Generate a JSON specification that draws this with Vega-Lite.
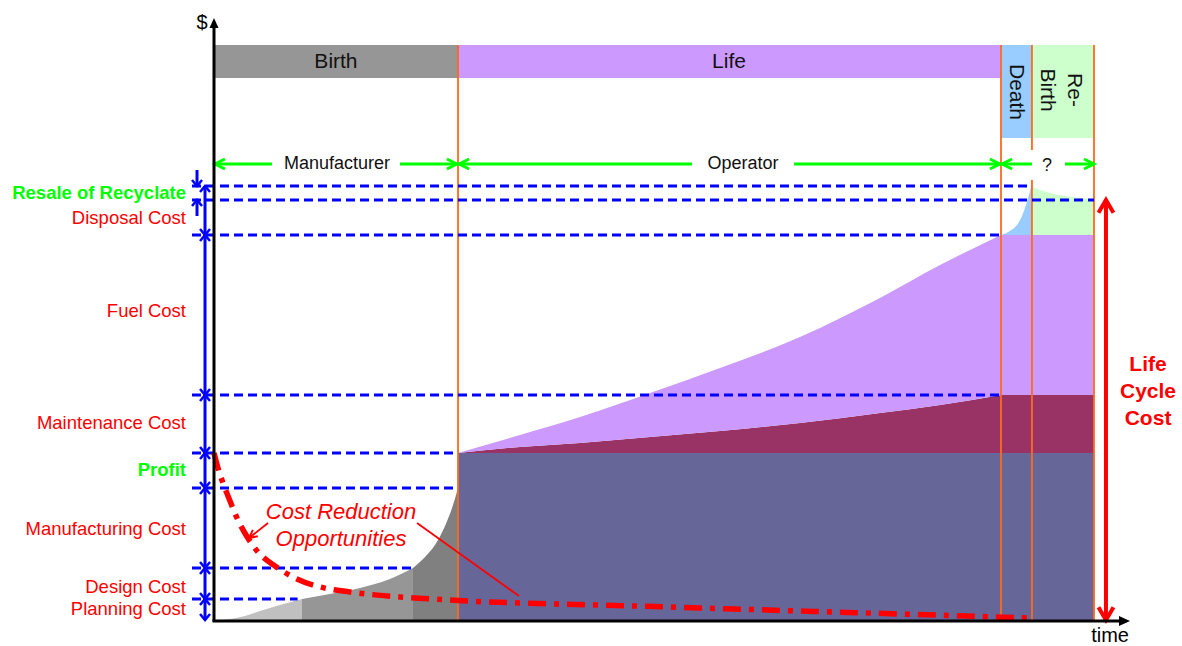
{
  "$schema": "https://vega.github.io/schema/vega-lite/v6.json",
  "width": 1182,
  "height": 646,
  "autosize": {"type": "none"},
  "padding": 0,
  "background": "white",
  "config": {"view": {"stroke": null}, "font": "Liberation Sans", "text": {"font": "Liberation Sans"}},
  "datasets": {
    "curvedCosts": [
      {"name": "Planning", "t": 0, "lo": 0, "hi": 0},
      {"name": "Planning", "t": 1.82, "lo": 0, "hi": 0.24},
      {"name": "Planning", "t": 3.52, "lo": 0, "hi": 0.95},
      {"name": "Planning", "t": 5.23, "lo": 0, "hi": 2.14},
      {"name": "Planning", "t": 7.5, "lo": 0, "hi": 3.57},
      {"name": "Planning", "t": 10, "lo": 0, "hi": 5},
      {"name": "Design", "t": 10, "lo": 0, "hi": 5},
      {"name": "Design", "t": 13.18, "lo": 0, "hi": 6.19},
      {"name": "Design", "t": 16.59, "lo": 0, "hi": 7.62},
      {"name": "Design", "t": 20, "lo": 0, "hi": 9.76},
      {"name": "Design", "t": 22.61, "lo": 0, "hi": 12.38},
      {"name": "Manufacturing", "t": 22.61, "lo": 0, "hi": 12.38},
      {"name": "Manufacturing", "t": 23.98, "lo": 0, "hi": 15.0},
      {"name": "Manufacturing", "t": 25.11, "lo": 0, "hi": 17.86},
      {"name": "Manufacturing", "t": 26.25, "lo": 0, "hi": 22.38},
      {"name": "Manufacturing", "t": 27.05, "lo": 0, "hi": 26.67},
      {"name": "Manufacturing", "t": 27.73, "lo": 0, "hi": 31.43},
      {"name": "Disposal", "t": 89.43, "lo": 91.67, "hi": 91.67},
      {"name": "Disposal", "t": 90.45, "lo": 91.67, "hi": 92.62},
      {"name": "Disposal", "t": 91.25, "lo": 91.67, "hi": 94.05},
      {"name": "Disposal", "t": 91.82, "lo": 91.67, "hi": 96.19},
      {"name": "Disposal", "t": 92.27, "lo": 91.67, "hi": 98.81},
      {"name": "Disposal", "t": 92.61, "lo": 91.67, "hi": 101.19},
      {"name": "Disposal", "t": 92.95, "lo": 91.67, "hi": 103.81},
      {"name": "Resale", "t": 92.95, "lo": 91.67, "hi": 103.1},
      {"name": "Resale", "t": 93.86, "lo": 91.67, "hi": 102.38},
      {"name": "Resale", "t": 95.0, "lo": 91.67, "hi": 101.67},
      {"name": "Resale", "t": 96.7, "lo": 91.67, "hi": 100.95},
      {"name": "Resale", "t": 98.41, "lo": 91.67, "hi": 100.48},
      {"name": "Resale", "t": 100, "lo": 91.67, "hi": 100.24}
    ],
    "lifeCosts": [
      {"name": "Purchase Price", "span": "life", "t": 27.73, "lo": 0, "hi": 39.76},
      {"name": "Purchase Price", "span": "life", "t": 100, "lo": 0, "hi": 39.76},
      {"name": "Maintenance", "span": "life", "t": 27.73, "lo": 39.76, "hi": 39.76},
      {"name": "Maintenance", "span": "life", "t": 34.77, "lo": 39.76, "hi": 41.19},
      {"name": "Maintenance", "span": "life", "t": 41.59, "lo": 39.76, "hi": 42.14},
      {"name": "Maintenance", "span": "life", "t": 49.55, "lo": 39.76, "hi": 43.57},
      {"name": "Maintenance", "span": "life", "t": 57.5, "lo": 39.76, "hi": 45.0},
      {"name": "Maintenance", "span": "life", "t": 66.59, "lo": 39.76, "hi": 46.9},
      {"name": "Maintenance", "span": "life", "t": 75.68, "lo": 39.76, "hi": 49.29},
      {"name": "Maintenance", "span": "life", "t": 82.5, "lo": 39.76, "hi": 51.19},
      {"name": "Maintenance", "span": "life", "t": 89.43, "lo": 39.76, "hi": 53.57},
      {"name": "Maintenance", "span": "end", "t": 89.43, "lo": 39.76, "hi": 53.57},
      {"name": "Maintenance", "span": "end", "t": 100, "lo": 39.76, "hi": 53.57},
      {"name": "Fuel", "span": "life", "t": 27.73, "lo": 39.76, "hi": 39.76},
      {"name": "Fuel", "span": "life", "t": 34.77, "lo": 41.19, "hi": 44.05},
      {"name": "Fuel", "span": "life", "t": 41.59, "lo": 42.14, "hi": 48.33},
      {"name": "Fuel", "span": "life", "t": 49.55, "lo": 43.57, "hi": 54.05},
      {"name": "Fuel", "span": "life", "t": 57.5, "lo": 45.0, "hi": 60.0},
      {"name": "Fuel", "span": "life", "t": 66.59, "lo": 46.9, "hi": 67.38},
      {"name": "Fuel", "span": "life", "t": 75.68, "lo": 49.29, "hi": 76.67},
      {"name": "Fuel", "span": "life", "t": 82.5, "lo": 51.19, "hi": 84.52},
      {"name": "Fuel", "span": "life", "t": 89.43, "lo": 53.57, "hi": 91.67},
      {"name": "Fuel", "span": "end", "t": 89.43, "lo": 53.57, "hi": 91.67},
      {"name": "Fuel", "span": "end", "t": 100, "lo": 53.57, "hi": 91.67}
    ],
    "phases": [
      {"name": "Birth", "t0": 0, "t1": 27.73, "top": 136.9, "bottom": 129.05},
      {"name": "Life", "t0": 27.73, "t1": 89.43, "top": 136.9, "bottom": 129.05},
      {"name": "Death", "t0": 89.43, "t1": 92.95, "top": 136.9, "bottom": 114.76},
      {"name": "Re-Birth", "t0": 92.95, "t1": 100, "top": 136.9, "bottom": 114.76}
    ],
    "dividers": [
      {"t": 27.73, "c0": 0, "c1": 136.9},
      {"t": 89.43, "c0": 0, "c1": 136.9},
      {"t": 92.95, "c0": 111.9, "c1": 136.9},
      {"t": 92.95, "c0": 0, "c1": 104.76},
      {"t": 100, "c0": 0, "c1": 136.9}
    ],
    "levels": [
      {"level": "Resale of Recyclate", "c": 103.33, "t0": -2.5, "t1": 92.5},
      {"level": "Disposal Cost", "c": 100, "t0": -2.5, "t1": 100},
      {"level": "Fuel Cost", "c": 91.67, "t0": -2.5, "t1": 89.43},
      {"level": "Maintenance Cost", "c": 53.57, "t0": -2.5, "t1": 89.43},
      {"level": "Profit", "c": 39.76, "t0": -2.5, "t1": 27.73},
      {"level": "Manufacturing Cost", "c": 31.43, "t0": -2.5, "t1": 27.73},
      {"level": "Design Cost", "c": 12.38, "t0": -2.5, "t1": 22.61},
      {"level": "Planning Cost", "c": 5, "t0": -2.5, "t1": 9.5}
    ],
    "reduction": [
      {"t": 0, "c": 39.76},
      {"t": 0.45, "c": 36.19},
      {"t": 1.02, "c": 32.62},
      {"t": 1.82, "c": 28.33},
      {"t": 2.61, "c": 24.29},
      {"t": 3.64, "c": 20.24},
      {"t": 5.0, "c": 16.19},
      {"t": 6.93, "c": 12.86},
      {"t": 9.2, "c": 10.0},
      {"t": 12.05, "c": 7.86},
      {"t": 15.45, "c": 6.67},
      {"t": 21.14, "c": 5.48},
      {"t": 24.89, "c": 5.0},
      {"t": 28.75, "c": 4.52},
      {"t": 34.77, "c": 4.05},
      {"t": 43.86, "c": 3.57},
      {"t": 55.23, "c": 2.86},
      {"t": 66.59, "c": 2.14},
      {"t": 77.95, "c": 1.43},
      {"t": 92.73, "c": 0.48}
    ],
    "pointers": [
      {"t0": 6.14, "c0": 23.1, "t1": 3.98, "c1": 19.52},
      {"t0": 23.07, "c0": 23.1, "t1": 34.66, "c1": 5.71}
    ],
    "pointerHead": [{"t": 3.98, "c": 19.52}],
    "blueRules": [
      {"t": -1.02, "c0": 0, "c1": 103.33},
      {"t": -1.93, "c0": 103.33, "c1": 107.14},
      {"t": -1.93, "c0": 96.19, "c1": 100}
    ],
    "blueUp": [
      {"t": -1.02, "c": 103.33},
      {"t": -1.02, "c": 91.67},
      {"t": -1.02, "c": 53.57},
      {"t": -1.02, "c": 39.76},
      {"t": -1.02, "c": 31.43},
      {"t": -1.02, "c": 12.38},
      {"t": -1.02, "c": 5},
      {"t": -1.93, "c": 100}
    ],
    "blueDown": [
      {"t": -1.02, "c": 91.67},
      {"t": -1.02, "c": 53.57},
      {"t": -1.02, "c": 39.76},
      {"t": -1.02, "c": 31.43},
      {"t": -1.02, "c": 12.38},
      {"t": -1.02, "c": 5},
      {"t": -1.02, "c": 0},
      {"t": -1.93, "c": 103.33}
    ],
    "actorSpans": [
      {"t0": 0, "t1": 6.59, "c": 108.57},
      {"t0": 21.14, "t1": 27.73, "c": 108.57},
      {"t0": 27.73, "t1": 54.32, "c": 108.57},
      {"t0": 65.91, "t1": 89.43, "c": 108.57},
      {"t0": 89.43, "t1": 92.95, "c": 108.57},
      {"t0": 96.7, "t1": 100, "c": 108.57}
    ],
    "actorStarts": [
      {"t": 0.1, "c": 108.57},
      {"t": 27.85, "c": 108.57},
      {"t": 89.55, "c": 108.57}
    ],
    "actorEnds": [
      {"t": 27.6, "c": 108.57},
      {"t": 89.3, "c": 108.57},
      {"t": 100, "c": 108.57}
    ],
    "lifeCycle": [{"t": 101.36, "c0": 0, "c1": 100}],
    "lifeCycleTop": [{"t": 101.36, "c": 100}],
    "lifeCycleBottom": [{"t": 101.36, "c": 0}],
    "axes": [
      {"t0": 0, "t1": 0, "c0": -0.4, "c1": 141.67},
      {"t0": -0.17, "t1": 103.3, "c0": -0.24, "c1": -0.24}
    ],
    "axisUp": [{"t": 0, "c": 143.33}],
    "axisRight": [{"t": 104.09, "c": -0.24}],
    "phaseLabels": [
      {"label": "Birth", "t": 13.86, "c": 132.86},
      {"label": "Life", "t": 58.52, "c": 132.86}
    ],
    "endLabels": [
      {"label": "Death", "t": 91.14, "c": 125.71},
      {"label": "Re-\nBirth", "t": 97.73, "c": 126.19}
    ],
    "actorLabels": [
      {"label": "Manufacturer", "t": 13.98, "c": 108.57},
      {"label": "Operator", "t": 60.11, "c": 108.57},
      {"label": "?", "t": 94.66, "c": 108.1}
    ],
    "costLabels": [
      {"label": "Disposal Cost", "t": -3.18, "c": 95.71},
      {"label": "Fuel Cost", "t": -3.18, "c": 73.57},
      {"label": "Maintenance Cost", "t": -3.18, "c": 46.9},
      {"label": "Manufacturing Cost", "t": -3.18, "c": 21.67},
      {"label": "Design Cost", "t": -3.18, "c": 7.86},
      {"label": "Planning Cost", "t": -3.18, "c": 2.62}
    ],
    "gainLabels": [
      {"label": "Resale of Recyclate", "t": -3.18, "c": 101.67},
      {"label": "Profit", "t": -3.18, "c": 35.71}
    ],
    "reductionLabel": [{"label": "Cost Reduction\nOpportunities", "t": 14.43, "c": 25.71}],
    "lifeCycleLabel": [{"label": "Life\nCycle\nCost", "t": 106.14, "c": 60.71}],
    "axisLabels": [
      {"label": "$", "t": -1.36, "c": 142.14, "size": "large"},
      {"label": "time", "t": 101.82, "c": -3.75, "size": "large"}
    ]
  },
  "layer": [
    {
      "data": {"name": "curvedCosts"},
      "mark": {"type": "area", "interpolate": "monotone", "opacity": 1},
      "encoding": {
        "x": {"field": "t", "type": "quantitative", "scale": {"domain": [-24.318, 110], "nice": false, "zero": false}, "axis": null},
        "y": {"field": "hi", "type": "quantitative", "scale": {"domain": [-6.19, 147.62], "nice": false, "zero": false}, "axis": null},
        "y2": {"field": "lo"},
        "color": {
          "field": "name", "type": "nominal", "legend": null,
          "scale": {
            "domain": ["Planning", "Design", "Manufacturing", "Purchase Price", "Maintenance", "Fuel", "Disposal", "Resale", "Birth", "Life", "Death", "Re-Birth"],
            "range": ["#c0c0c0", "#969696", "#808080", "#666699", "#993366", "#cc99ff", "#99ccff", "#ccffcc", "#969696", "#cc99ff", "#99ccff", "#ccffcc"]
          }
        }
      }
    },
    {
      "data": {"name": "lifeCosts"},
      "mark": {"type": "area", "interpolate": "monotone", "opacity": 1},
      "encoding": {
        "x": {"field": "t", "type": "quantitative", "scale": {"domain": [-24.318, 110], "nice": false, "zero": false}, "axis": null},
        "y": {"field": "hi", "type": "quantitative", "scale": {"domain": [-6.19, 147.62], "nice": false, "zero": false}, "axis": null},
        "y2": {"field": "lo"},
        "color": {"field": "name", "type": "nominal", "legend": null},
        "detail": {"field": "span", "type": "nominal"}
      }
    },
    {
      "data": {"name": "phases"},
      "mark": {"type": "rect", "opacity": 1},
      "encoding": {
        "x": {"field": "t0", "type": "quantitative", "axis": null},
        "x2": {"field": "t1"},
        "y": {"field": "top", "type": "quantitative", "axis": null},
        "y2": {"field": "bottom"},
        "color": {"field": "name", "type": "nominal", "legend": null}
      }
    },
    {
      "data": {"name": "dividers"},
      "mark": {"type": "rule", "color": "#ff6a1a", "strokeWidth": 1.8},
      "encoding": {
        "x": {"field": "t", "type": "quantitative", "axis": null},
        "y": {"field": "c0", "type": "quantitative", "axis": null},
        "y2": {"field": "c1"}
      }
    },
    {
      "data": {"name": "levels"},
      "mark": {"type": "rule", "color": "#0000ff", "strokeWidth": 3, "strokeDash": [9, 5]},
      "encoding": {
        "x": {"field": "t0", "type": "quantitative", "axis": null},
        "x2": {"field": "t1"},
        "y": {"field": "c", "type": "quantitative", "axis": null}
      }
    },
    {
      "data": {"name": "reduction"},
      "mark": {"type": "line", "color": "#ff0000", "strokeWidth": 5.5, "strokeDash": [18, 8, 5, 8], "interpolate": "monotone"},
      "encoding": {
        "x": {"field": "t", "type": "quantitative", "axis": null},
        "y": {"field": "c", "type": "quantitative", "axis": null}
      }
    },
    {
      "data": {"name": "pointers"},
      "mark": {"type": "rule", "color": "#ff0000", "strokeWidth": 1.8},
      "encoding": {
        "x": {"field": "t0", "type": "quantitative", "axis": null},
        "x2": {"field": "t1"},
        "y": {"field": "c0", "type": "quantitative", "axis": null},
        "y2": {"field": "c1"}
      }
    },
    {
      "data": {"name": "pointerHead"},
      "mark": {"type": "point", "shape": "M-2,-1L0,0L-2,1", "filled": false, "color": "#ff0000", "strokeWidth": 2, "size": 64, "angle": 142, "opacity": 1},
      "encoding": {
        "x": {"field": "t", "type": "quantitative", "axis": null},
        "y": {"field": "c", "type": "quantitative", "axis": null}
      }
    },
    {
      "data": {"name": "blueRules"},
      "mark": {"type": "rule", "color": "#0000ff", "strokeWidth": 3},
      "encoding": {
        "x": {"field": "t", "type": "quantitative", "axis": null},
        "y": {"field": "c0", "type": "quantitative", "axis": null},
        "y2": {"field": "c1"}
      }
    },
    {
      "data": {"name": "blueUp"},
      "mark": {"type": "point", "shape": "M-1,1.2L0,0L1,1.2", "filled": false, "color": "#0000ff", "strokeWidth": 2.5, "size": 100, "opacity": 1},
      "encoding": {
        "x": {"field": "t", "type": "quantitative", "axis": null},
        "y": {"field": "c", "type": "quantitative", "axis": null}
      }
    },
    {
      "data": {"name": "blueDown"},
      "mark": {"type": "point", "shape": "M-1,-1.2L0,0L1,-1.2", "filled": false, "color": "#0000ff", "strokeWidth": 2.5, "size": 100, "opacity": 1},
      "encoding": {
        "x": {"field": "t", "type": "quantitative", "axis": null},
        "y": {"field": "c", "type": "quantitative", "axis": null}
      }
    },
    {
      "data": {"name": "actorSpans"},
      "mark": {"type": "rule", "color": "#00ff00", "strokeWidth": 3},
      "encoding": {
        "x": {"field": "t0", "type": "quantitative", "axis": null},
        "x2": {"field": "t1"},
        "y": {"field": "c", "type": "quantitative", "axis": null}
      }
    },
    {
      "data": {"name": "actorStarts"},
      "mark": {"type": "point", "shape": "M2,-1L0,0L2,1", "filled": false, "color": "#00ff00", "strokeWidth": 3, "size": 100, "opacity": 1},
      "encoding": {
        "x": {"field": "t", "type": "quantitative", "axis": null},
        "y": {"field": "c", "type": "quantitative", "axis": null}
      }
    },
    {
      "data": {"name": "actorEnds"},
      "mark": {"type": "point", "shape": "M-2,-1L0,0L-2,1", "filled": false, "color": "#00ff00", "strokeWidth": 3, "size": 100, "opacity": 1},
      "encoding": {
        "x": {"field": "t", "type": "quantitative", "axis": null},
        "y": {"field": "c", "type": "quantitative", "axis": null}
      }
    },
    {
      "data": {"name": "lifeCycle"},
      "mark": {"type": "rule", "color": "#ff0000", "strokeWidth": 4},
      "encoding": {
        "x": {"field": "t", "type": "quantitative", "axis": null},
        "y": {"field": "c0", "type": "quantitative", "axis": null},
        "y2": {"field": "c1"}
      }
    },
    {
      "data": {"name": "lifeCycleTop"},
      "mark": {"type": "point", "shape": "M-1,1.7L0,0L1,1.7", "filled": false, "color": "#ff0000", "strokeWidth": 4, "size": 225, "opacity": 1},
      "encoding": {
        "x": {"field": "t", "type": "quantitative", "axis": null},
        "y": {"field": "c", "type": "quantitative", "axis": null}
      }
    },
    {
      "data": {"name": "lifeCycleBottom"},
      "mark": {"type": "point", "shape": "M-1,-1.7L0,0L1,-1.7", "filled": false, "color": "#ff0000", "strokeWidth": 4, "size": 225, "opacity": 1},
      "encoding": {
        "x": {"field": "t", "type": "quantitative", "axis": null},
        "y": {"field": "c", "type": "quantitative", "axis": null}
      }
    },
    {
      "data": {"name": "axes"},
      "mark": {"type": "rule", "color": "#000000", "strokeWidth": 3},
      "encoding": {
        "x": {"field": "t0", "type": "quantitative", "axis": null},
        "x2": {"field": "t1"},
        "y": {"field": "c0", "type": "quantitative", "axis": null},
        "y2": {"field": "c1"}
      }
    },
    {
      "data": {"name": "axisUp"},
      "mark": {"type": "point", "shape": "M0,0L-1,2.2L1,2.2Z", "filled": true, "color": "#000000", "size": 81, "opacity": 1},
      "encoding": {
        "x": {"field": "t", "type": "quantitative", "axis": null},
        "y": {"field": "c", "type": "quantitative", "axis": null}
      }
    },
    {
      "data": {"name": "axisRight"},
      "mark": {"type": "point", "shape": "M0,0L-2.2,-1L-2.2,1Z", "filled": true, "color": "#000000", "size": 100, "opacity": 1},
      "encoding": {
        "x": {"field": "t", "type": "quantitative", "axis": null},
        "y": {"field": "c", "type": "quantitative", "axis": null}
      }
    },
    {
      "data": {"name": "phaseLabels"},
      "mark": {"type": "text", "fontSize": 21, "color": "#111111", "align": "center", "baseline": "middle"},
      "encoding": {
        "x": {"field": "t", "type": "quantitative", "axis": null},
        "y": {"field": "c", "type": "quantitative", "axis": null},
        "text": {"field": "label"}
      }
    },
    {
      "data": {"name": "endLabels"},
      "mark": {"type": "text", "fontSize": 21, "color": "#111111", "align": "center", "baseline": "middle", "angle": 90, "lineBreak": "\n", "lineHeight": 27},
      "encoding": {
        "x": {"field": "t", "type": "quantitative", "axis": null},
        "y": {"field": "c", "type": "quantitative", "axis": null},
        "text": {"field": "label"}
      }
    },
    {
      "data": {"name": "actorLabels"},
      "mark": {"type": "text", "fontSize": 18, "color": "#111111", "align": "center", "baseline": "middle"},
      "encoding": {
        "x": {"field": "t", "type": "quantitative", "axis": null},
        "y": {"field": "c", "type": "quantitative", "axis": null},
        "text": {"field": "label"}
      }
    },
    {
      "data": {"name": "costLabels"},
      "mark": {"type": "text", "fontSize": 18.5, "color": "#ff0000", "align": "right", "baseline": "middle"},
      "encoding": {
        "x": {"field": "t", "type": "quantitative", "axis": null},
        "y": {"field": "c", "type": "quantitative", "axis": null},
        "text": {"field": "label"}
      }
    },
    {
      "data": {"name": "gainLabels"},
      "mark": {"type": "text", "fontSize": 18.5, "fontWeight": "bold", "color": "#00ff00", "align": "right", "baseline": "middle"},
      "encoding": {
        "x": {"field": "t", "type": "quantitative", "axis": null},
        "y": {"field": "c", "type": "quantitative", "axis": null},
        "text": {"field": "label"}
      }
    },
    {
      "data": {"name": "reductionLabel"},
      "mark": {"type": "text", "fontSize": 22, "fontStyle": "italic", "color": "#ff0000", "align": "center", "baseline": "middle", "lineBreak": "\n", "lineHeight": 27},
      "encoding": {
        "x": {"field": "t", "type": "quantitative", "axis": null},
        "y": {"field": "c", "type": "quantitative", "axis": null},
        "text": {"field": "label"}
      }
    },
    {
      "data": {"name": "lifeCycleLabel"},
      "mark": {"type": "text", "fontSize": 21, "fontWeight": "bold", "color": "#ff0000", "align": "center", "baseline": "middle", "lineBreak": "\n", "lineHeight": 27},
      "encoding": {
        "x": {"field": "t", "type": "quantitative", "axis": null},
        "y": {"field": "c", "type": "quantitative", "axis": null},
        "text": {"field": "label"}
      }
    },
    {
      "data": {"name": "axisLabels"},
      "mark": {"type": "text", "fontSize": 20, "color": "#000000", "align": "center", "baseline": "middle"},
      "encoding": {
        "x": {"field": "t", "type": "quantitative", "axis": null},
        "y": {"field": "c", "type": "quantitative", "axis": null},
        "text": {"field": "label"}
      }
    }
  ]
}
